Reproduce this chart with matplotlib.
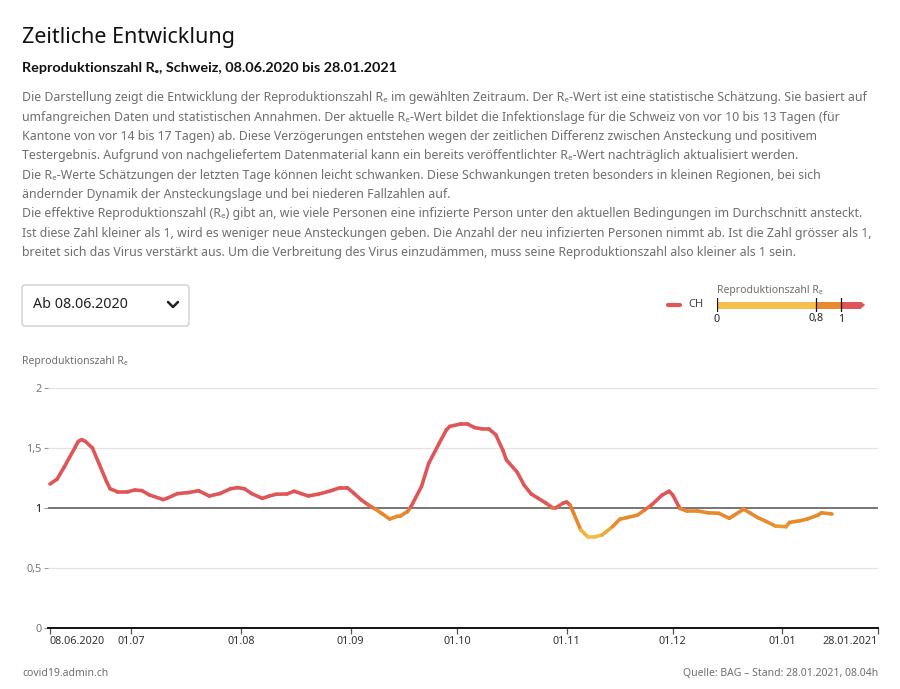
import matplotlib
matplotlib.use("Agg")
import matplotlib.pyplot as plt
import matplotlib.dates as mdates
from matplotlib.collections import LineCollection
from matplotlib.colors import LinearSegmentedColormap
from matplotlib.patches import FancyBboxPatch, Polygon
from matplotlib.lines import Line2D
import numpy as np
import pandas as pd

# ---------------- data ----------------
dates = [
    "2020-06-08", "2020-06-10", "2020-06-12", "2020-06-15", "2020-06-16", "2020-06-17",
    "2020-06-18", "2020-06-20", "2020-06-22", "2020-06-24", "2020-06-25", "2020-06-27",
    "2020-06-30", "2020-07-02", "2020-07-04", "2020-07-06", "2020-07-10", "2020-07-11",
    "2020-07-14", "2020-07-17", "2020-07-20", "2020-07-23", "2020-07-26", "2020-07-29",
    "2020-07-31", "2020-08-02", "2020-08-04", "2020-08-07", "2020-08-09", "2020-08-11",
    "2020-08-14", "2020-08-16", "2020-08-18", "2020-08-20", "2020-08-23", "2020-08-26",
    "2020-08-27", "2020-08-29", "2020-08-31", "2020-09-02", "2020-09-04", "2020-09-06",
    "2020-09-08", "2020-09-10", "2020-09-12", "2020-09-14", "2020-09-15", "2020-09-17",
    "2020-09-18", "2020-09-21", "2020-09-23", "2020-09-26", "2020-09-28", "2020-09-29",
    "2020-10-02", "2020-10-04", "2020-10-06", "2020-10-08", "2020-10-10", "2020-10-12",
    "2020-10-14", "2020-10-15", "2020-10-18", "2020-10-20", "2020-10-22", "2020-10-24",
    "2020-10-26", "2020-10-28", "2020-10-29", "2020-10-31", "2020-11-01", "2020-11-02",
    "2020-11-03", "2020-11-05", "2020-11-07", "2020-11-09", "2020-11-11", "2020-11-14",
    "2020-11-16", "2020-11-18", "2020-11-21", "2020-11-23", "2020-11-25", "2020-11-28",
    "2020-11-30", "2020-12-01", "2020-12-03", "2020-12-05", "2020-12-08", "2020-12-11",
    "2020-12-14", "2020-12-17", "2020-12-18", "2020-12-21", "2020-12-23", "2020-12-25",
    "2020-12-27", "2020-12-30", "2021-01-02", "2021-01-03", "2021-01-06", "2021-01-08",
    "2021-01-11", "2021-01-12", "2021-01-15",
]
re_values = [
    1.20, 1.24, 1.34, 1.50, 1.555, 1.57,
    1.555, 1.50, 1.36, 1.22, 1.16, 1.136,
    1.136, 1.15, 1.145, 1.11, 1.07, 1.08,
    1.12, 1.128, 1.144, 1.10, 1.12, 1.16,
    1.17, 1.16, 1.12, 1.08, 1.10, 1.115,
    1.117, 1.14, 1.12, 1.10, 1.117, 1.14,
    1.15, 1.17, 1.17, 1.12, 1.067, 1.025,
    0.99, 0.95, 0.908, 0.93, 0.933, 0.97,
    1.01, 1.18, 1.37, 1.54, 1.65, 1.68,
    1.70, 1.70, 1.67, 1.66, 1.66, 1.61,
    1.48, 1.40, 1.30, 1.19, 1.117, 1.08,
    1.044, 1.003, 1.003, 1.04, 1.05, 1.025,
    0.956, 0.817, 0.76, 0.76, 0.775, 0.845,
    0.906, 0.92, 0.94, 0.983, 1.025, 1.108,
    1.14, 1.108, 0.997, 0.975, 0.975, 0.96,
    0.956, 0.914, 0.933, 0.99, 0.956, 0.92,
    0.894, 0.85, 0.844, 0.88, 0.894, 0.908,
    0.94, 0.96, 0.95,
]
x_start = "2020-06-08"
x_end = "2021-01-28"
tick_dates = ["2020-06-08", "2020-07-01", "2020-08-01", "2020-09-01", "2020-10-01",
              "2020-11-01", "2020-12-01", "2021-01-01", "2021-01-28"]
tick_labels = ["08.06.2020", "01.07", "01.08", "01.09", "01.10", "01.11", "01.12", "01.01", "28.01.2021"]
y_ticks = [0, 0.5, 1, 1.5, 2]
y_tick_labels = ["0", "0,5", "1", "1,5", "2"]
legend_thresholds = [0, 0.8, 1]
legend_labels = ["0", "0,8", "1"]

# ---------------- style ----------------
FONT = ["Noto Sans", "DejaVu Sans"]
plt.rcParams["font.family"] = FONT
YELLOW = "#f4c04a"
ORANGE = "#e8892b"
RED = "#df5659"
GRAY_TXT = "#6f6f6f"

W, H = 900, 689
fig = plt.figure(figsize=(9, 6.89), dpi=100)


def fx(x):
    return x / W


def fy(y):
    return 1 - y / H


def inch(x, y):
    return (x / 100.0, (H - y) / 100.0)


# Titles
fig.text(fx(22), fy(37), "Zeitliche Entwicklung", fontsize=15.5, color="#111111", va="center", ha="left")
fig.text(fx(22), fy(68), "Reproduktionszahl Rₑ, Schweiz, 08.06.2020 bis 28.01.2021", fontsize=10.4,
         color="#111111", va="center", ha="left", fontweight="bold", family=["Lato", "DejaVu Sans"])

para = [
    "Die Darstellung zeigt die Entwicklung der Reproduktionszahl Rₑ im gewählten Zeitraum. Der Rₑ-Wert ist eine statistische Schätzung. Sie basiert auf",
    "umfangreichen Daten und statistischen Annahmen. Der aktuelle Rₑ-Wert bildet die Infektionslage für die Schweiz von vor 10 bis 13 Tagen (für",
    "Kantone von vor 14 bis 17 Tagen) ab. Diese Verzögerungen entstehen wegen der zeitlichen Differenz zwischen Ansteckung und positivem",
    "Testergebnis. Aufgrund von nachgeliefertem Datenmaterial kann ein bereits veröffentlichter Rₑ-Wert nachträglich aktualisiert werden.",
    "Die Rₑ-Werte Schätzungen der letzten Tage können leicht schwanken. Diese Schwankungen treten besonders in kleinen Regionen, bei sich",
    "ändernder Dynamik der Ansteckungslage und bei niederen Fallzahlen auf.",
    "Die effektive Reproduktionszahl (Rₑ) gibt an, wie viele Personen eine infizierte Person unter den aktuellen Bedingungen im Durchschnitt ansteckt.",
    "Ist diese Zahl kleiner als 1, wird es weniger neue Ansteckungen geben. Die Anzahl der neu infizierten Personen nimmt ab. Ist die Zahl grösser als 1,",
    "breitet sich das Virus verstärkt aus. Um die Verbreitung des Virus einzudämmen, muss seine Reproduktionszahl also kleiner als 1 sein.",
]
for i, line in enumerate(para):
    fig.text(fx(22), fy(98 + i * 19.3), line, fontsize=8.9, color=GRAY_TXT, va="center", ha="left")

# Dropdown box
box = FancyBboxPatch(inch(22, 326), 167 / 100, 41 / 100, boxstyle="round,pad=0,rounding_size=0.03",
                     transform=fig.dpi_scale_trans, facecolor="white", edgecolor="#cfcfcf", linewidth=1)
fig.patches.append(box)
fig.text(fx(33), fy(305), "Ab 08.06.2020", fontsize=10.3, color="#222222", va="center", ha="left")
cx = [inch(168, 302), inch(173, 307), inch(178, 302)]
fig.add_artist(Line2D([p[0] for p in cx], [p[1] for p in cx], transform=fig.dpi_scale_trans,
                      color="#222222", linewidth=1.8, solid_capstyle="round", solid_joinstyle="round"))

# Legend: CH line
fig.add_artist(Line2D([fx(668), fx(680)], [fy(305), fy(305)], transform=fig.transFigure,
                      color=RED, linewidth=3, solid_capstyle="round"))
fig.text(fx(688), fy(305), "CH", fontsize=8, color="#444444", va="center", ha="left")
fig.text(fx(717), fy(291), "Reproduktionszahl Rₑ", fontsize=7.5, color=GRAY_TXT, va="center", ha="left")

# Legend colour bar in its own axes
lax = fig.add_axes([fx(717), fy(312), fx(870) - fx(717), (312 - 298) / H])
lax.set_xlim(0, (870 - 717) / 124.0)
lax.set_ylim(-1, 1)
lax.axis("off")
bar_h = 0.5
lax.fill_between([legend_thresholds[0], legend_thresholds[1]], -bar_h, bar_h, color=YELLOW, lw=0)
lax.fill_between([legend_thresholds[1], legend_thresholds[2]], -bar_h, bar_h, color=ORANGE, lw=0)
lax.fill_between([legend_thresholds[2], 1.16], -bar_h, bar_h, color=RED, lw=0)
lax.add_patch(Polygon([[1.16, -bar_h], [1.195, 0], [1.16, bar_h]], closed=True, color=RED, lw=0))
for t in legend_thresholds:
    lax.plot([t, t], [-0.95, 0.95], color="#111111", lw=0.9)
for t, lab in zip(legend_thresholds, legend_labels):
    fig.text(fx(717 + t * 124), fy(319), lab, fontsize=7.8, color="#222222", va="center", ha="center")

# Axis title
fig.text(fx(22), fy(362), "Reproduktionszahl Rₑ", fontsize=7.5, color=GRAY_TXT, va="center", ha="left")

# Footer
fig.text(fx(22), fy(674), "covid19.admin.ch", fontsize=7.5, color=GRAY_TXT, va="center", ha="left")
fig.text(fx(878), fy(674), "Quelle: BAG – Stand: 28.01.2021, 08.04h", fontsize=7.5, color=GRAY_TXT,
         va="center", ha="right")

# ---------------- main chart ----------------
x0 = pd.Timestamp(x_start)
x1 = pd.Timestamp(x_end)
left_px = 48.2
ax = fig.add_axes([fx(left_px), fy(628), fx(878) - fx(left_px), (628 - 388) / H])
ax.set_xlim(mdates.date2num(x0 - pd.Timedelta(hours=12)), mdates.date2num(x1))
ax.set_ylim(0, 2)

for s in ["top", "right", "left"]:
    ax.spines[s].set_visible(False)
ax.spines["bottom"].set_color("#111111")
ax.spines["bottom"].set_linewidth(1.4)
ax.spines["bottom"].set_zorder(5)

ax.set_yticks(y_ticks)
ax.set_yticklabels(y_tick_labels)
for yv in y_ticks:
    if yv == 0:
        continue
    if yv == 1:
        ax.axhline(yv, color="#6b6b6b", lw=1.3, zorder=1)
    else:
        ax.axhline(yv, color="#e3e3e3", lw=0.9, zorder=0)
ax.tick_params(axis="y", length=3, width=0.8, color="#9a9a9a", pad=2, labelsize=7.8, labelcolor="#777777")
for lab in ax.get_yticklabels():
    if lab.get_text() == "1":
        lab.set_fontweight("bold")
        lab.set_color("#111111")

tick_nums = [mdates.date2num(pd.Timestamp(d)) for d in tick_dates]
ax.set_xticks(tick_nums)
ax.set_xticklabels(tick_labels)
ax.tick_params(axis="x", length=4, width=0.9, color="#555555", pad=2, labelsize=7.8, labelcolor="#333333")
xl = ax.get_xticklabels()
xl[0].set_ha("left")
xl[-1].set_ha("right")

# coloured line (colour follows the value, as in the legend scale)
xs = mdates.date2num(pd.to_datetime(dates))
ys = np.array(re_values)
pts = np.column_stack([xs, ys]).reshape(-1, 1, 2)
segs = np.concatenate([pts[:-1], pts[1:]], axis=1)
mids = (ys[:-1] + ys[1:]) / 2
cmap = LinearSegmentedColormap.from_list(
    "re", [(0.0, YELLOW), (0.14, YELLOW), (0.3, "#eca535"), (0.45, ORANGE), (0.7, ORANGE),
           (0.82, RED), (1.0, RED)])
norm = plt.Normalize(0.7, 1.1)
lc = LineCollection(segs, colors=cmap(norm(mids)), linewidths=2.6, capstyle="round", joinstyle="round", zorder=3)
ax.add_collection(lc)

fig.savefig("out.png", dpi=100, facecolor="white")
